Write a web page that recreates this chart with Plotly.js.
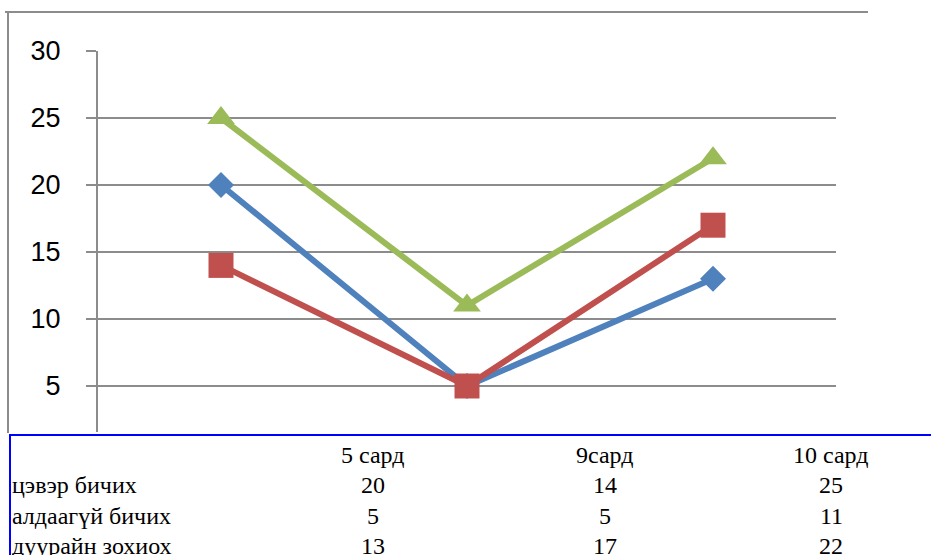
<!DOCTYPE html>
<html>
<head>
<meta charset="utf-8">
<script src="https://cdn.plot.ly/plotly-3.0.1.min.js"></script>
<style>html,body{margin:0;padding:0;background:#fff;}#chart{width:931px;height:555px;}</style>
</head>
<body>
<div id="chart"></div>
<script>
// Data
const skills = ['цэвэр бичих', 'алдаагүй бичих', 'дуурайн зохиох'];
const months = ['5 сард', '9сард', '10 сард'];
const may = [20, 5, 13];
const sep = [14, 5, 17];
const oct = [25, 11, 22];
const yTicks = [5, 10, 15, 20, 25, 30];

// Table rows (row = skill, columns = months)
const seriesByMonth = [may, sep, oct];

// Layout helpers (pixel -> paper coordinates)
const W = 931, H = 555;
const L = 98, R = 836, T = 51, B = 432;
const px = x => (x - L) / (R - L);
const py = y => (B - y) / (B - T);

const traces = [
  {name: months[0], x: skills, y: may, type: 'scatter', mode: 'lines+markers',
   line: {color: '#4F81BD', width: 6},
   marker: {symbol: 'diamond', size: 20, color: '#4F81BD'}},
  {name: months[1], x: skills, y: sep, type: 'scatter', mode: 'lines+markers',
   line: {color: '#C0504D', width: 6},
   marker: {symbol: 'square', size: 25, color: '#C0504D'}},
  {name: months[2], x: skills, y: oct, type: 'scatter', mode: 'lines+markers',
   line: {color: '#9BBB59', width: 6},
   marker: {symbol: 'triangle-up', size: 24, color: '#9BBB59'}}
];

const colX = [373, 605, 831];
const headerY = 455;
const rowY = [485, 516, 546];
const tableFont = {family: '"Liberation Serif", "Times New Roman", serif', size: 24, color: '#000'};

const annotations = [];
months.forEach((m, j) => {
  annotations.push({xref: 'paper', yref: 'paper', x: px(colX[j]), y: py(headerY),
    text: m, showarrow: false, xanchor: 'center', yanchor: 'middle', font: tableFont});
});
skills.forEach((s, i) => {
  annotations.push({xref: 'paper', yref: 'paper', x: px(10), y: py(rowY[i]),
    text: s, showarrow: false, xanchor: 'left', yanchor: 'middle', font: tableFont});
  seriesByMonth.forEach((arr, j) => {
    annotations.push({xref: 'paper', yref: 'paper', x: px(colX[j]), y: py(rowY[i]),
      text: String(arr[i]), showarrow: false, xanchor: 'center', yanchor: 'middle', font: tableFont});
  });
});

const yPerPx = 5 / 67;
const yMax = 30;
const yMin = yMax - (B - T) * yPerPx;

const layout = {
  width: W, height: H,
  margin: {l: L, r: W - R, t: T, b: H - B, pad: 0},
  paper_bgcolor: '#fff', plot_bgcolor: '#fff',
  showlegend: false,
  xaxis: {type: 'category', range: [-0.5, 2.5], showticklabels: false, showgrid: false,
          zeroline: false, showline: false, ticks: ''},
  yaxis: {range: [yMin, yMax], tickvals: yTicks, ticktext: yTicks.map(String),
          showgrid: true, gridcolor: '#8C8C8C', gridwidth: 2, zeroline: false,
          showline: true, linecolor: '#8C8C8C', linewidth: 2,
          ticks: 'outside', ticklen: 10, tickwidth: 2, tickcolor: '#8C8C8C',
          ticklabelstandoff: 20,
          tickfont: {family: '"Liberation Sans", Arial, sans-serif', size: 27, color: '#000'}},
  shapes: [
    {type: 'line', xref: 'paper', yref: 'paper', x0: px(5), x1: px(868), y0: py(12), y1: py(12),
     line: {color: '#8C8C8C', width: 2}},
    {type: 'line', xref: 'paper', yref: 'paper', x0: px(8), x1: px(8), y0: py(12), y1: py(433),
     line: {color: '#8C8C8C', width: 2}},
    {type: 'rect', xref: 'paper', yref: 'paper', x0: px(10), x1: px(940), y0: py(435), y1: py(570),
     line: {color: '#0000FF', width: 2}, fillcolor: 'rgba(0,0,0,0)'}
  ],
  annotations: annotations
};

Plotly.newPlot('chart', traces, layout, {displayModeBar: false, staticPlot: true});
</script>
</body>
</html>
